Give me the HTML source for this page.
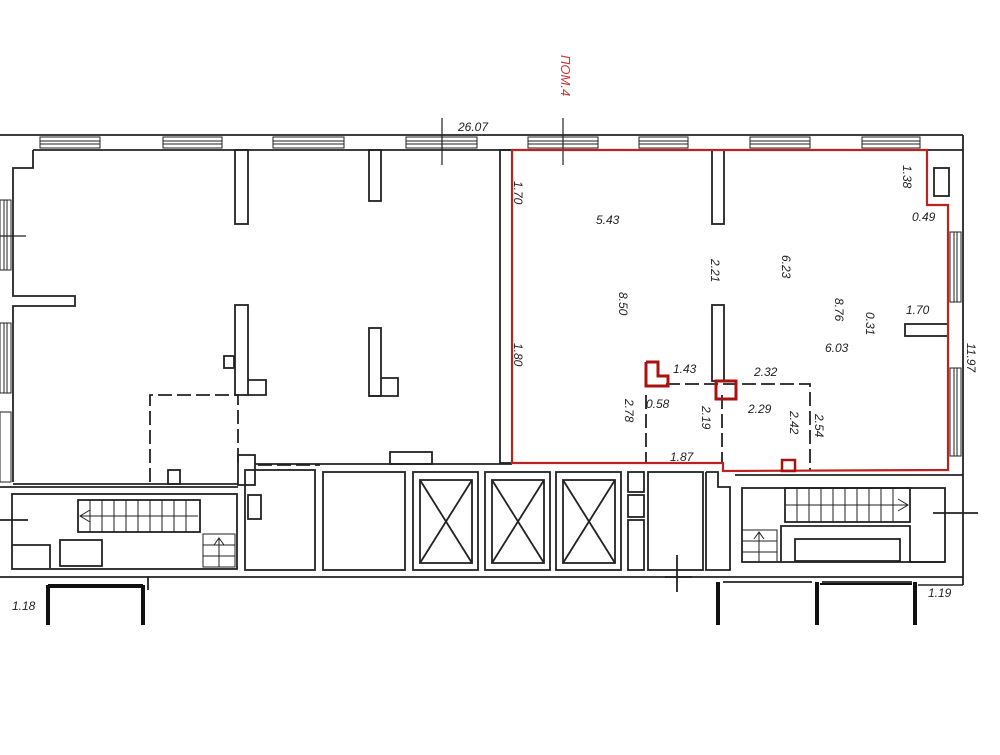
<!DOCTYPE html>
<html><head><meta charset="utf-8"><style>
body{margin:0;background:#fff;width:1000px;height:750px;overflow:hidden}
text{font-family:"Liberation Sans",sans-serif;font-style:italic;font-size:12px;fill:#222}
</style></head><body>
<svg width="1000" height="750" viewBox="0 0 1000 750" xmlns="http://www.w3.org/2000/svg">
<g fill="none" stroke="#222" stroke-width="1.8">
<line x1="0" y1="135" x2="963" y2="135"/>
<line x1="33" y1="150" x2="963" y2="150"/>
<polyline points="963,135 963,585"/>
<g stroke-width="1">
<rect x="40" y="137" width="60" height="11"/><line x1="40" y1="141" x2="100" y2="141"/><line x1="40" y1="144" x2="100" y2="144"/>
<rect x="163" y="137" width="59" height="11"/><line x1="163" y1="141" x2="222" y2="141"/><line x1="163" y1="144" x2="222" y2="144"/>
<rect x="273" y="137" width="71" height="11"/><line x1="273" y1="141" x2="344" y2="141"/><line x1="273" y1="144" x2="344" y2="144"/>
<rect x="406" y="137" width="71" height="11"/><line x1="406" y1="141" x2="477" y2="141"/><line x1="406" y1="144" x2="477" y2="144"/>
<rect x="528" y="137" width="70" height="11"/><line x1="528" y1="141" x2="598" y2="141"/><line x1="528" y1="144" x2="598" y2="144"/>
<rect x="639" y="137" width="49" height="11"/><line x1="639" y1="141" x2="688" y2="141"/><line x1="639" y1="144" x2="688" y2="144"/>
<rect x="750" y="137" width="60" height="11"/><line x1="750" y1="141" x2="810" y2="141"/><line x1="750" y1="144" x2="810" y2="144"/>
<rect x="862" y="137" width="58" height="11"/><line x1="862" y1="141" x2="920" y2="141"/><line x1="862" y1="144" x2="920" y2="144"/>
<rect x="950" y="232" width="11" height="70"/><line x1="954" y1="232" x2="954" y2="302"/><line x1="957" y1="232" x2="957" y2="302"/>
<rect x="950" y="368" width="11" height="88"/><line x1="954" y1="368" x2="954" y2="456"/><line x1="957" y1="368" x2="957" y2="456"/>
<rect x="0" y="200" width="11" height="70"/><line x1="4" y1="200" x2="4" y2="270"/><line x1="7" y1="200" x2="7" y2="270"/>
<rect x="0" y="323" width="11" height="70"/><line x1="4" y1="323" x2="4" y2="393"/><line x1="7" y1="323" x2="7" y2="393"/>
<rect x="0" y="412" width="11" height="70"/>
</g>
<polyline points="33,150 33,168 13,168 13,296 75,296 75,306 13,306 13,482"/>
<rect x="235" y="150" width="13" height="74"/>
<rect x="369" y="150" width="12" height="51"/>
<rect x="235" y="305" width="13" height="90"/>
<polyline points="248,380 266,380 266,395 248,395"/>
<rect x="224" y="356" width="10" height="12"/>
<rect x="369" y="328" width="12" height="68"/>
<polyline points="381,378 398,378 398,396 369,396"/>
<rect x="500" y="150" width="12" height="313"/>
<rect x="712" y="150" width="12" height="74"/>
<rect x="712" y="305" width="12" height="76"/>
<rect x="934" y="168" width="15" height="28"/>
<rect x="905" y="324" width="43" height="12"/>
<g stroke-dasharray="14,5">
<polyline points="150,482 150,395 238,395 238,465"/>
<polyline points="666,384 810,384 810,470"/>
<line x1="646" y1="395" x2="646" y2="463"/>
<line x1="722" y1="395" x2="722" y2="463"/>
<line x1="258" y1="465" x2="320" y2="465"/>
</g>
<rect x="168" y="470" width="12" height="14"/>
<rect x="238" y="455" width="17" height="30"/>
<rect x="390" y="452" width="42" height="12"/>
<line x1="13" y1="484" x2="238" y2="484"/>
<line x1="255" y1="464" x2="512" y2="464"/>
<line x1="0" y1="487" x2="238" y2="487"/>
<rect x="245" y="470" width="70" height="100"/>
<rect x="323" y="472" width="82" height="98"/>
<rect x="413" y="472" width="65" height="98"/><rect x="420" y="480" width="52" height="83"/><line x1="420" y1="480" x2="472" y2="563"/><line x1="472" y1="480" x2="420" y2="563"/>
<rect x="485" y="472" width="65" height="98"/><rect x="492" y="480" width="52" height="83"/><line x1="492" y1="480" x2="544" y2="563"/><line x1="544" y1="480" x2="492" y2="563"/>
<rect x="556" y="472" width="65" height="98"/><rect x="563" y="480" width="52" height="83"/><line x1="563" y1="480" x2="615" y2="563"/><line x1="615" y1="480" x2="563" y2="563"/>
<rect x="628" y="472" width="16" height="20"/><rect x="628" y="495" width="16" height="22"/><rect x="628" y="520" width="16" height="50"/>
<rect x="648" y="472" width="55" height="98"/>
<polyline points="706,472 718,472 718,487 730,487 730,570 706,570 706,472"/>
<rect x="12" y="494" width="225" height="75"/>
<rect x="78" y="500" width="122" height="32"/>
<g stroke-width="1">
<line x1="90" y1="500" x2="90" y2="532"/><line x1="102" y1="500" x2="102" y2="532"/><line x1="114" y1="500" x2="114" y2="532"/><line x1="126" y1="500" x2="126" y2="532"/><line x1="138" y1="500" x2="138" y2="532"/><line x1="150" y1="500" x2="150" y2="532"/><line x1="162" y1="500" x2="162" y2="532"/><line x1="174" y1="500" x2="174" y2="532"/><line x1="186" y1="500" x2="186" y2="532"/>
<line x1="80" y1="516" x2="198" y2="516"/><polyline points="90,510 80,516 90,522"/>
<rect x="203" y="534" width="32" height="33"/><line x1="203" y1="545" x2="235" y2="545"/><line x1="203" y1="556" x2="235" y2="556"/><line x1="219" y1="538" x2="219" y2="567"/><polyline points="214,545 219,538 224,545"/>
</g>
<polyline points="12,545 50,545 50,568"/>
<rect x="60" y="540" width="42" height="26"/>
<line x1="0" y1="520" x2="28" y2="520"/>
<rect x="248" y="495" width="13" height="24"/>
<line x1="735" y1="475" x2="963" y2="475"/>
<rect x="742" y="488" width="203" height="74"/>
<rect x="785" y="488" width="125" height="34"/>
<g stroke-width="1">
<line x1="797" y1="488" x2="797" y2="522"/><line x1="809" y1="488" x2="809" y2="522"/><line x1="821" y1="488" x2="821" y2="522"/><line x1="833" y1="488" x2="833" y2="522"/><line x1="845" y1="488" x2="845" y2="522"/><line x1="857" y1="488" x2="857" y2="522"/><line x1="869" y1="488" x2="869" y2="522"/><line x1="881" y1="488" x2="881" y2="522"/><line x1="893" y1="488" x2="893" y2="522"/><line x1="785" y1="505" x2="908" y2="505"/><polyline points="898,499 908,505 898,511"/>
<rect x="742" y="530" width="35" height="32"/><line x1="742" y1="541" x2="777" y2="541"/><line x1="742" y1="552" x2="777" y2="552"/><line x1="759" y1="532" x2="759" y2="562"/><polyline points="754,539 759,532 764,539"/>
</g>
<polyline points="781,562 781,526 910,526 910,562 945,562"/>
<rect x="795" y="539" width="105" height="22"/>
<line x1="933" y1="513" x2="978" y2="513"/>
<line x1="0" y1="577" x2="148" y2="577"/>
<polyline points="148,590 148,577 718,577"/>
<line x1="718" y1="577" x2="963" y2="577"/>
<line x1="723" y1="582" x2="812" y2="582"/>
<line x1="822" y1="582" x2="912" y2="582"/>
<line x1="677" y1="555" x2="677" y2="592"/>
<line x1="665" y1="577" x2="692" y2="577"/>
</g>
<g stroke="#111" stroke-width="4">
<line x1="48" y1="585" x2="48" y2="625"/><line x1="48" y1="586" x2="143" y2="586"/><line x1="143" y1="585" x2="143" y2="625"/>
<line x1="718" y1="582" x2="718" y2="625"/><line x1="817" y1="582" x2="817" y2="625"/><line x1="915" y1="582" x2="915" y2="625"/>
<line x1="820" y1="584" x2="912" y2="584" stroke-width="2"/>
</g>
<line x1="963" y1="585" x2="918" y2="585" stroke="#222" stroke-width="1.5"/>
<g stroke="#222" stroke-width="1.2">
<line x1="442" y1="118" x2="442" y2="165"/>
<line x1="563" y1="118" x2="563" y2="165"/>
<line x1="0" y1="236" x2="26" y2="236"/>
</g>
<polygon points="512,150 927,150 927,205 948,205 948,470 723,471 723,463 512,463" fill="none" stroke="#b22" stroke-width="2.2"/>
<polyline points="646,362 658,362 658,376 668,376 668,386 646,386 646,362" fill="none" stroke="#a11" stroke-width="3"/>
<rect x="716" y="381" width="20" height="18" fill="none" stroke="#a11" stroke-width="3"/>
<rect x="782" y="460" width="13" height="11" fill="none" stroke="#a11" stroke-width="2.5"/>
<text x="458" y="131">26.07</text>
<text transform="translate(561,55) rotate(90)" style="fill:#c33;font-size:13px">ПОМ.4</text>
<text x="596" y="224">5.43</text>
<text x="912" y="221">0.49</text>
<text x="906" y="314">1.70</text>
<text x="825" y="352">6.03</text>
<text x="673" y="373">1.43</text>
<text x="754" y="376">2.32</text>
<text x="646" y="408">0.58</text>
<text x="748" y="413">2.29</text>
<text x="670" y="461">1.87</text>
<text x="12" y="610">1.18</text>
<text x="928" y="597">1.19</text>
<text transform="translate(514,181) rotate(90)">1.70</text>
<text transform="translate(514,343) rotate(90)">1.80</text>
<text transform="translate(903,165) rotate(90)">1.38</text>
<text transform="translate(711,259) rotate(90)">2.21</text>
<text transform="translate(782,255) rotate(90)">6.23</text>
<text transform="translate(619,292) rotate(90)">8.50</text>
<text transform="translate(835,298) rotate(90)">8.76</text>
<text transform="translate(866,312) rotate(90)">0.31</text>
<text transform="translate(967,343) rotate(90)">11.97</text>
<text transform="translate(625,399) rotate(90)">2.78</text>
<text transform="translate(702,406) rotate(90)">2.19</text>
<text transform="translate(790,411) rotate(90)">2.42</text>
<text transform="translate(815,414) rotate(90)">2.54</text>
</svg>
</body></html>
